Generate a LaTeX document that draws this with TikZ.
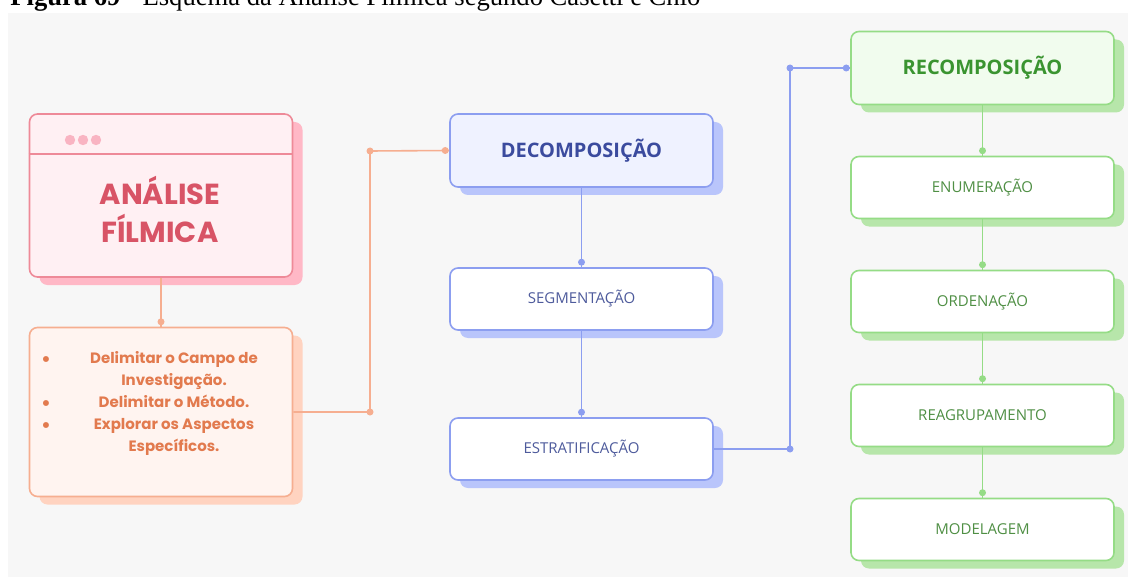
\documentclass[tikz,border=0pt]{standalone}
\usepackage{fontspec}
\setmainfont{Liberation Serif}
\newfontfamily\popfont{Poppins}
\newfontfamily\boxfont{Open Sans}
\usetikzlibrary{shadows,positioning}

\definecolor{bgray}{HTML}{F7F7F7}
\definecolor{pkline}{HTML}{EE8A98}
\definecolor{pkfill}{HTML}{FFF0F3}
\definecolor{pkshad}{HTML}{FFB8C6}
\definecolor{pktext}{HTML}{D85466}
\definecolor{pkdot}{HTML}{F9B4C2}
\definecolor{orline}{HTML}{F6AE90}
\definecolor{orfill}{HTML}{FFF4F0}
\definecolor{orshad}{HTML}{FFD3C0}
\definecolor{ortext}{HTML}{E27A4E}
\definecolor{blline}{HTML}{8C9EF0}
\definecolor{blfill}{HTML}{EFF2FF}
\definecolor{blshad}{HTML}{B9C5FB}
\definecolor{bltext}{HTML}{3B4B9E}
\definecolor{blsmall}{HTML}{4E5B9C}
\definecolor{grline}{HTML}{95DC86}
\definecolor{grfill}{HTML}{F1FCEE}
\definecolor{grshad}{HTML}{B7E6AA}
\definecolor{grtext}{HTML}{3A9430}
\definecolor{grsmall}{HTML}{4F8F44}

\tikzset{
  card/.style={rectangle, rounded corners=4pt, line width=0.8pt, minimum width=131.5pt, inner sep=0pt},
  pinkcard/.style={card, draw=pkline, fill=pkfill, general shadow={fill=pkshad, shadow xshift=5pt, shadow yshift=-4pt}},
  orcard/.style={card, draw=orline, fill=orfill, general shadow={fill=orshad, shadow xshift=5pt, shadow yshift=-4pt}},
  bluecard/.style={card, draw=blline, fill=white, minimum height=31pt, text=blsmall, font=\boxfont\fontsize{7.5}{9}\selectfont, general shadow={fill=blshad, shadow xshift=5pt, shadow yshift=-4pt}},
  greencard/.style={card, draw=grline, fill=white, minimum height=31pt, text=grsmall, font=\boxfont\fontsize{7.5}{9}\selectfont, general shadow={fill=grshad, shadow xshift=5pt, shadow yshift=-4pt}},
  headcard/.style={minimum height=36.5pt, font=\boxfont\bfseries\fontsize{10}{12}\selectfont},
  link/.style={line width=0.8pt},
  dot/.style={circle, fill, inner sep=0pt, minimum size=3.5pt},
  bulletmark/.style={text=ortext, font=\popfont\fontsize{12}{12}\selectfont, inner sep=0pt, anchor=base}
}

\begin{document}
\begin{tikzpicture}[x=0.5pt, y=-0.5pt]
  \useasboundingbox (0,0) rectangle (1128,577);
  \clip (0,0) rectangle (1128,577);
  \fill[bgray] (8,13) rectangle (1128,577);
  \node[anchor=base west, inner sep=0pt, font=\fontsize{13.3}{15}\selectfont] (caption) at (10,6) {\textbf{Figura 69 -} Esquema da Análise Fílmica segundo Casetti e Chio};

  % left column
  \node[pinkcard, minimum height=81.5pt] (ana) at (161,195.5) {};
  \draw[pkline, line width=0.8pt] ([yshift=-20.5pt]ana.north west) -- ([yshift=-20.5pt]ana.north east);
  \foreach \dx in {70,83,96} \fill[pkdot] (\dx,140) circle (2.6pt);
  \node[text=pktext, font=\popfont\bfseries\fontsize{14.5}{19}\selectfont, align=center] (anatitle) at (160,209) {ANÁLISE\\FÍLMICA};

  \node[orcard, minimum height=84.5pt] (lst) at (161,412) {};
  \node[text=ortext, font=\popfont\bfseries\fontsize{7.5}{11}\selectfont, align=center, anchor=north] (lsttext) at (174,344)
    {Delimitar o Campo de\\Investigação.\\Delimitar o Método.\\Explorar os Aspectos\\Específicos.};
  \node[bulletmark] (b1) at (46,367) {•};
  \node[bulletmark] (b2) at (46,411) {•};
  \node[bulletmark] (b3) at (46,433) {•};

  \draw[link, orline] (ana.south) -- (lst.north) node[dot, pos=0.9] {};

  % middle column
  \node[bluecard, headcard, fill=blfill, text=bltext] (dec) at (581.5,150.5) {DECOMPOSIÇÃO};
  \node[bluecard] (seg) at (581.5,299) {SEGMENTAÇÃO};
  \node[bluecard] (est) at (581.5,449) {ESTRATIFICAÇÃO};
  \coordinate (oj) at (370,151);
  \draw[link, orline] (lst.east) -| (oj) -- (dec.west);
  \fill[orline] (oj |- lst.east) circle (1.75pt) (oj) circle (1.75pt) ([xshift=-2pt]dec.west) circle (1.75pt);
  \draw[link, blline] (dec.south) -- (seg.north);
  \draw[link, blline] (seg.south) -- (est.north);
  \fill[blline] ([yshift=2.5pt]seg.north) circle (1.75pt) ([yshift=2.5pt]est.north) circle (1.75pt);

  % right column
  \node[greencard, headcard, fill=grfill, text=grtext] (rec) at (982.5,68) {RECOMPOSIÇÃO};
  \node[greencard] (enu) at (982.5,187.5) {ENUMERAÇÃO};
  \node[greencard] (ord) at (982.5,301.5) {ORDENAÇÃO};
  \node[greencard] (rea) at (982.5,415.5) {REAGRUPAMENTO};
  \node[greencard] (mod) at (982.5,529.5) {MODELAGEM};
  \foreach \a/\b in {rec/enu, enu/ord, ord/rea, rea/mod} {
    \draw[link, grline] (\a.south) -- (\b.north);
    \fill[grline] ([yshift=2.5pt]\b.north) circle (1.75pt);
  }

  \coordinate (bj) at (790,68);
  \draw[link, blline] (est.east) -| (bj) -- (rec.west);
  \fill[blline] (bj |- est.east) circle (1.75pt) (bj) circle (1.75pt) ([xshift=-2pt]rec.west) circle (1.75pt);
\end{tikzpicture}
\end{document}
